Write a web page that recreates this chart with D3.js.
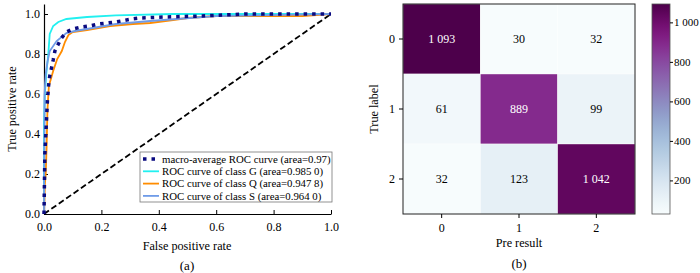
<!DOCTYPE html>
<html>
<head>
<meta charset="utf-8">
<script src="https://cdn.jsdelivr.net/npm/d3@7"></script>
<style>
  body { margin: 0; background: #fff; }
  text { font-family: "Liberation Serif", "Times New Roman", serif; fill: #000; }
</style>
</head>
<body>
<div id="chart"></div>
<script>
// ROC curves (fpr / tpr)
const macroFpr = [0, 0.003, 0.007, 0.009, 0.012, 0.017, 0.02, 0.026, 0.032, 0.038, 0.05, 0.061, 0.078, 0.1, 0.13, 0.16, 0.19, 0.22, 0.25, 0.305, 0.335, 0.42, 0.55, 0.7, 1.0];
const macroTpr = [0, 0.3, 0.42, 0.48, 0.57, 0.66, 0.69, 0.73, 0.77, 0.815, 0.85, 0.88, 0.91, 0.925, 0.935, 0.94, 0.95, 0.955, 0.96, 0.975, 0.98, 0.985, 0.99, 1.0, 1.0];

const gFpr = [0, 0, 0.003, 0.008, 0.015, 0.02, 0.032, 0.05, 0.078, 0.15, 0.25, 0.45, 1.0];
const gTpr = [0, 0.45, 0.6, 0.7, 0.8, 0.9, 0.94, 0.96, 0.975, 0.985, 0.993, 1.0, 1.0];

const qFpr = [0, 0.003, 0.006, 0.009, 0.012, 0.017, 0.032, 0.046, 0.062, 0.073, 0.085, 0.1, 0.15, 0.23, 0.31, 0.37, 0.45, 0.5, 0.6, 0.9, 1.0];
const qTpr = [0, 0.15, 0.2, 0.33, 0.52, 0.64, 0.715, 0.775, 0.815, 0.86, 0.895, 0.91, 0.92, 0.94, 0.95, 0.955, 0.97, 0.98, 0.99, 0.99, 1.0];

const sFpr = [0, 0.001, 0.002, 0.006, 0.012, 0.02, 0.044, 0.078, 0.107, 0.17, 0.25, 0.37, 0.6, 1.0];
const sTpr = [0, 0.3, 0.6, 0.7, 0.76, 0.815, 0.865, 0.905, 0.915, 0.93, 0.95, 0.965, 0.99, 1.0];

const curveLabels = [
  'macro-average ROC curve (area=0.97)',
  'ROC curve of class G (area=0.985 0)',
  'ROC curve of class Q (area=0.947 8)',
  'ROC curve of class S (area=0.964 0)'
];

// confusion matrix
const classes = ['0', '1', '2'];
const matrix = [
  [1093, 30, 32],
  [61, 889, 99],
  [32, 123, 1042]
];
const cbarTicks = [200, 400, 600, 800, 1000];

const fmt = v => d3.format(',')(v).replace(/,/g, ' ');

const svg = d3.select('#chart').append('svg')
  .attr('width', 700)
  .attr('height', 273);

// ---------- (a) ROC ----------
const x = d3.scaleLinear().domain([0, 1]).range([44, 331]);
const y = d3.scaleLinear().domain([0, 1.05]).range([214, 4]);

const roc = svg.append('g');

roc.append('g')
  .attr('transform', 'translate(0,214)')
  .call(d3.axisBottom(x).tickValues([0, 0.2, 0.4, 0.6, 0.8, 1.0]).tickFormat(d3.format('.1f')).tickSizeInner(-4).tickSizeOuter(0).tickPadding(8))
  .call(g => g.selectAll('text').attr('font-size', 12).attr('font-family', 'Liberation Serif'))
  .call(g => g.select('.domain').attr('stroke-width', 1.2));

roc.append('g')
  .attr('transform', 'translate(44,0)')
  .call(d3.axisLeft(y).tickValues([0, 0.2, 0.4, 0.6, 0.8, 1.0]).tickFormat(d3.format('.1f')).tickSizeInner(-4).tickSizeOuter(0).tickPadding(4))
  .call(g => g.selectAll('text').attr('font-size', 12).attr('font-family', 'Liberation Serif'))
  .call(g => g.select('.domain').attr('stroke-width', 1.2));

const line = (fx, ty) => d3.line().x((d, i) => x(fx[i])).y((d, i) => y(ty[i]))(fx);

roc.append('path')
  .attr('d', line([0, 1], [0, 1]))
  .attr('fill', 'none').attr('stroke', '#000').attr('stroke-width', 1.8)
  .attr('stroke-dasharray', '6 3');

const series = [
  { f: gFpr, t: gTpr, color: '#22f0f0', w: 1.8, dash: null },
  { f: qFpr, t: qTpr, color: '#ff8c00', w: 1.8, dash: null },
  { f: sFpr, t: sTpr, color: '#6f9be8', w: 1.8, dash: null },
  { f: macroFpr, t: macroTpr, color: '#0a0a80', w: 3.5, dash: '3.5 5' }
];

series.forEach(s => {
  roc.append('path')
    .attr('d', line(s.f, s.t))
    .attr('fill', 'none')
    .attr('stroke', s.color)
    .attr('stroke-width', s.w)
    .attr('stroke-dasharray', s.dash);
});

// legend
const leg = roc.append('g').attr('transform', 'translate(140,152)');
leg.append('rect')
  .attr('width', 192).attr('height', 50)
  .attr('fill', '#fff').attr('stroke', '#777').attr('stroke-width', 0.8);
const legStyles = [series[3], series[0], series[1], series[2]];
curveLabels.forEach((lab, i) => {
  const yy = 7 + i * 12.3;
  const s = legStyles[i];
  leg.append('line')
    .attr('x1', 3).attr('x2', 19).attr('y1', yy).attr('y2', yy)
    .attr('stroke', s.color).attr('stroke-width', s.w)
    .attr('stroke-dasharray', s.dash);
  leg.append('text')
    .attr('x', 22).attr('y', yy)
    .attr('dy', '0.35em')
    .attr('font-size', 10.8)
    .text(lab);
});

roc.append('text')
  .attr('x', 187).attr('y', 250)
  .attr('text-anchor', 'middle').attr('font-size', 12.2)
  .text('False positive rate');
roc.append('text')
  .attr('transform', 'translate(16,109) rotate(-90)')
  .attr('text-anchor', 'middle').attr('font-size', 12.2)
  .text('True positive rate');
roc.append('text')
  .attr('x', 187).attr('y', 270)
  .attr('text-anchor', 'middle').attr('font-size', 13)
  .text('(a)');

// ---------- (b) confusion matrix ----------
const cx = d3.scaleBand().domain(classes).range([403, 635]);
const cy = d3.scaleBand().domain(classes).range([4, 214]);
const vals = matrix.flat();
const color = d3.scaleSequential(d3.interpolateBuPu).domain([d3.min(vals), d3.max(vals)]);

const cm = svg.append('g');
const cells = [];
matrix.forEach((row, r) => row.forEach((v, c) => cells.push({ r: classes[r], c: classes[c], v })));

cm.selectAll('rect.cell')
  .data(cells).enter().append('rect')
  .attr('class', 'cell')
  .attr('x', d => cx(d.c)).attr('y', d => cy(d.r))
  .attr('width', cx.bandwidth()).attr('height', cy.bandwidth())
  .attr('fill', d => color(d.v))
  .attr('stroke', '#fff').attr('stroke-width', 0.4);

cm.selectAll('text.val')
  .data(cells).enter().append('text')
  .attr('class', 'val')
  .attr('x', d => cx(d.c) + cx.bandwidth() / 2)
  .attr('y', d => cy(d.r) + cy.bandwidth() / 2)
  .attr('dy', '0.35em')
  .attr('text-anchor', 'middle')
  .attr('font-size', 12)
  .style('fill', d => d.v > 500 ? '#fff' : '#000')
  .text(d => fmt(d.v));

cm.append('rect')
  .attr('x', 403).attr('y', 4).attr('width', 232).attr('height', 210)
  .attr('fill', 'none').attr('stroke', '#222').attr('stroke-width', 1);

cm.append('g')
  .attr('transform', 'translate(0,214)')
  .call(d3.axisBottom(cx).tickSizeInner(4).tickSizeOuter(0).tickPadding(5))
  .call(g => g.selectAll('text').attr('font-size', 12).attr('font-family', 'Liberation Serif'))
  .call(g => g.select('.domain').remove());

cm.append('g')
  .attr('transform', 'translate(403,0)')
  .call(d3.axisLeft(cy).tickSizeInner(4).tickSizeOuter(0).tickPadding(4))
  .call(g => g.selectAll('text').attr('font-size', 12).attr('font-family', 'Liberation Serif'))
  .call(g => g.select('.domain').remove());

cm.append('text')
  .attr('x', 519).attr('y', 247)
  .attr('text-anchor', 'middle').attr('font-size', 12.2)
  .text('Pre result');
cm.append('text')
  .attr('transform', 'translate(378,109) rotate(-90)')
  .attr('text-anchor', 'middle').attr('font-size', 12.2)
  .text('True label');
cm.append('text')
  .attr('x', 519).attr('y', 268)
  .attr('text-anchor', 'middle').attr('font-size', 13)
  .text('(b)');

// colorbar
const cb = d3.scaleLinear().domain(color.domain()).range([214, 4]);
const defs = svg.append('defs');
const grad = defs.append('linearGradient').attr('id', 'cbgrad')
  .attr('x1', 0).attr('y1', 1).attr('x2', 0).attr('y2', 0);
d3.range(0, 1.001, 0.05).forEach(t => {
  grad.append('stop').attr('offset', t).attr('stop-color', d3.interpolateBuPu(t));
});
cm.append('rect')
  .attr('x', 652).attr('y', 4).attr('width', 18).attr('height', 210)
  .attr('fill', 'url(#cbgrad)')
  .attr('stroke', '#555').attr('stroke-width', 0.8);
cm.append('g')
  .attr('transform', 'translate(670,0)')
  .call(d3.axisRight(cb).tickValues(cbarTicks).tickFormat(fmt).tickSizeInner(3).tickSizeOuter(0).tickPadding(1))
  .call(g => g.selectAll('text').attr('font-size', 11).attr('font-family', 'Liberation Serif'))
  .call(g => g.select('.domain').remove());
</script>
</body>
</html>
